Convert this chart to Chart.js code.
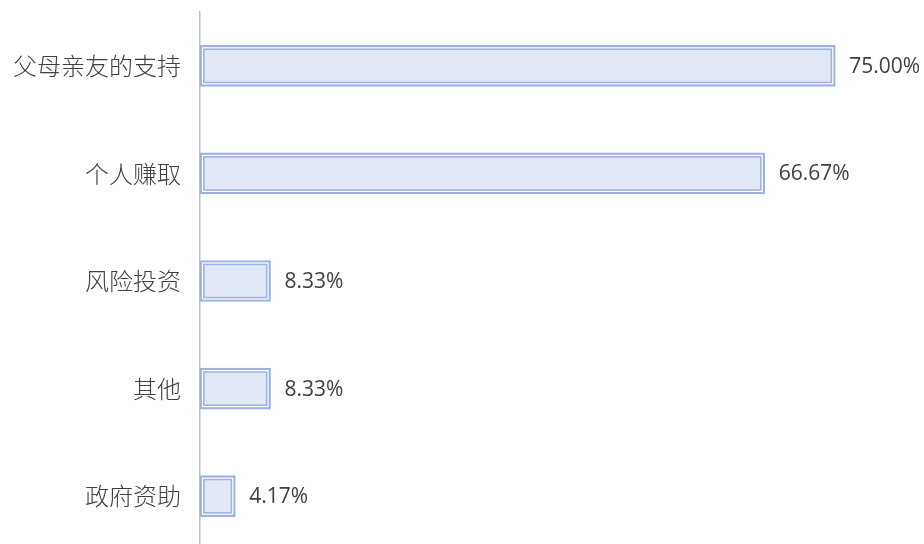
<!DOCTYPE html>
<html>
<head>
<meta charset="utf-8">
<script src="https://cdn.jsdelivr.net/npm/chart.js@4.4.1/dist/chart.umd.min.js"></script>
<style>
  html, body { margin: 0; padding: 0; background: #fff; overflow: hidden; }
  #wrap { position: relative; width: 924px; height: 550px; }
</style>
</head>
<body>
<div id="wrap"><canvas id="fundingChart"></canvas></div>
<script>
const categories = ['父母亲友的支持', '个人赚取', '风险投资', '其他', '政府资助'];
const shares = [75.00, 66.67, 8.33, 8.33, 4.17];

const barLine = '#9DB1E3';
const barFill = '#E2E8F6';

// draws the thin white gap that gives each bar its double outline
const doubleBorder = {
    id: 'doubleBorder',
    afterDatasetsDraw(chart) {
        const ctx = chart.ctx;
        const meta = chart.getDatasetMeta(0);
        ctx.save();
        ctx.strokeStyle = '#ffffff';
        ctx.lineWidth = 1.2;
        meta.data.forEach(bar => {
            const left = Math.min(bar.base, bar.x);
            const right = Math.max(bar.base, bar.x);
            const top = bar.y - bar.height / 2;
            ctx.strokeRect(left + 2.5, top + 2.5, right - left - 5, bar.height - 5);
        });
        ctx.restore();
    }
};

// value labels at the end of each bar
const valueLabels = {
    id: 'valueLabels',
    afterDatasetsDraw(chart) {
        const ctx = chart.ctx;
        const meta = chart.getDatasetMeta(0);
        ctx.save();
        ctx.font = '21px "Open Sans", sans-serif';
        ctx.fillStyle = '#404040';
        ctx.textAlign = 'left';
        ctx.textBaseline = 'middle';
        meta.data.forEach((bar, i) => {
            ctx.fillText(shares[i].toFixed(2) + '%', bar.x + 14, bar.y + 1);
        });
        ctx.restore();
    }
};

new Chart(document.getElementById('fundingChart'), {
    type: 'bar',
    data: {
        labels: categories,
        datasets: [{
            data: shares,
            backgroundColor: barFill,
            borderColor: barLine,
            borderWidth: 5,
            borderSkipped: false,
            barThickness: 41
        }]
    },
    options: {
        indexAxis: 'y',
        responsive: true,
        maintainAspectRatio: false,
        animation: false,
        layout: { padding: { top: 12, right: 4, bottom: 0, left: 0 } },
        plugins: {
            legend: { display: false },
            tooltip: { enabled: false }
        },
        scales: {
            x: {
                min: 0,
                max: 85,
                display: false
            },
            y: {
                afterFit(scale) {
                    scale.width = 200;
                    scale.paddingTop = 0;
                    scale.paddingBottom = 0;
                },
                grid: { display: false, drawTicks: false },
                border: { display: true, color: '#B4C2E2', width: 1.5 },
                ticks: {
                    color: '#404040',
                    padding: 19,
                    font: { family: '"Noto Sans CJK SC", sans-serif', size: 24, weight: 300 }
                }
            }
        }
    },
    plugins: [doubleBorder, valueLabels]
});
</script>
</body>
</html>
